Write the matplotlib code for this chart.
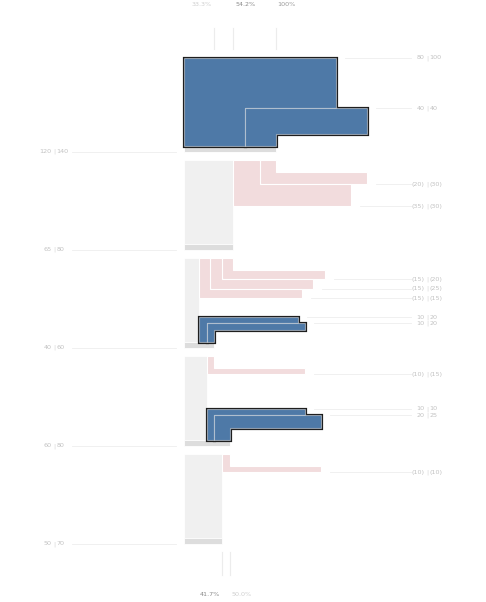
import matplotlib
matplotlib.use("Agg")
import matplotlib.pyplot as plt
from matplotlib.patches import Polygon, Rectangle

# values per step, "a | b" pairs (a drives the drawing, b is only labelled)
losses_a = [[], [20, 35], [15, 15, 15], [10], [10]]
losses_b = [[], [30, 30], [20, 25, 15], [15], [10]]
gains_a = [[80, 40], [], [10, 10], [10, 20], []]
gains_b = [[100, 40], [], [20, 20], [10, 25], []]
top_groups = [0, 1, 2]
bottom_groups = [3, 4]

# colours
BLUE = "#4e79a7"
PINK = "#f2dcdd"
BASE = "#f0f0f0"
STRIP = "#dddddd"
LINE = "#eeeeee"
TXT = "#c2c2c2"

# layout, in pixels
W, H = 486, 602
X0 = 183.5            # pixel where value 0 sits
SX = 92 / 120         # px per unit across
SY = 0.63             # px per unit for bar thickness
TAIL = 119            # bar overhang past the stem, in units
G_BOT0, PITCH, G_H = 151.5, 98.1, 90
LEAD, STRIP_H = 12, 6
FS = 4.6

fig = plt.figure(figsize=(W / 100, H / 100), dpi=100)
ax = fig.add_axes([0, 0, 1, 1])
ax.set_xlim(-X0 / SX, (W - X0) / SX)
ax.set_ylim(H, 0)
ax.axis("off")


def u(px):
    # pixel x -> data units
    return (px - X0) / SX


def pair_label(y, left, right, sep_px):
    ax.text(u(sep_px - 2.6), y, left, ha="right", va="center", fontsize=FS, color=TXT)
    ax.text(u(sep_px), y, "|", ha="center", va="center", fontsize=FS, color="#d8d8d8")
    ax.text(u(sep_px + 2.6), y, right, ha="left", va="center", fontsize=FS, color=TXT)


prev_a, prev_b = 0, 0
totals = []
for g in range(len(losses_a)):
    bot = G_BOT0 + PITCH * g
    top = bot - G_H
    strip_top = bot - STRIP_H
    base = prev_a - sum(losses_a[g])
    total = base + sum(gains_a[g])
    total_b = prev_b - sum(losses_b[g]) + sum(gains_b[g])
    totals.append(total)

    # grey column and total strip
    ax.add_patch(Rectangle((0, top), base, bot - top, facecolor=BASE,
                           edgecolor="white", lw=0.6, zorder=1))
    ax.add_patch(Rectangle((0, strip_top), total, STRIP_H, facecolor=STRIP,
                           edgecolor="white", lw=0.6, zorder=2))

    # losses: stems hang from the top, bars step down
    y = top + LEAD
    right = prev_a
    for va, vb in zip(losses_a[g], losses_b[g]):
        sl, sr = right - va, right
        yb = y + SY * va
        pts = [(sl, top), (sr, top), (sr, y), (sr + TAIL, y), (sr + TAIL, yb), (sl, yb)]
        ax.add_patch(Polygon(pts, closed=True, facecolor=PINK, edgecolor="white",
                             lw=0.8, zorder=3))
        ax.plot([sr + TAIL + u(X0 + 9), u(411)], [yb, yb], color=LINE, lw=0.6, zorder=1)
        pair_label(yb, f"({va})", f"({vb})", 427)
        right = sl
        y = yb

    # gains: bars on top, stems run down to the total strip
    y = strip_top - LEAD - SY * sum(gains_a[g])
    left = base
    shapes = []
    for va, vb in zip(gains_a[g], gains_b[g]):
        sl, sr = left, left + va
        yb = y + SY * va
        pts = [(sl, y), (sr + TAIL, y), (sr + TAIL, yb), (sr, yb), (sr, strip_top), (sl, strip_top)]
        shapes.append(pts)
        ax.plot([sr + TAIL + u(X0 + 9), u(411)], [y, y], color=LINE, lw=0.6, zorder=1)
        pair_label(y, f"{va}", f"{vb}", 427)
        left = sr
        y = yb
    for pts in shapes:
        ax.add_patch(Polygon(pts, closed=True, facecolor=BLUE, edgecolor="#1a1a1a",
                             lw=2.3, joinstyle="miter", zorder=4))
    for pts in shapes:
        ax.add_patch(Polygon(pts, closed=True, facecolor=BLUE,
                             edgecolor=(1, 1, 1, 0.45), lw=0.8, zorder=5))

    # group total on the left
    ax.plot([u(72), u(176)], [bot + 0.5, bot + 0.5], color=LINE, lw=0.6, zorder=1)
    pair_label(bot, f"{total}", f"{total_b}", 54)

    prev_a, prev_b = total, total_b

# percentage marks above and below (styles follow the group order)
top_style = [("left", "#9a9a9a"), ("left", "#8a8a8a"), ("right", "#cfcfcf")]
bottom_style = [("left", "#cfcfcf"), ("right", "#8a8a8a")]
for groups, (y0, y1, ty), styles in [(top_groups, (28, 49, 5), top_style),
                                     (bottom_groups, (552, 575, 595), bottom_style)]:
    for g, (ha, col) in zip(groups, styles):
        t = totals[g]
        ax.plot([t, t], [y0, y1], color="#ececec", lw=0.8)
        dx = -2 / SX if ha == "right" else 2 / SX
        ax.text(t + dx, ty, f"{t / totals[0] * 100:.1f}%".replace("100.0%", "100%"),
                ha=ha, va="center", fontsize=FS, color=col)

fig.savefig("out.png", dpi=100)
